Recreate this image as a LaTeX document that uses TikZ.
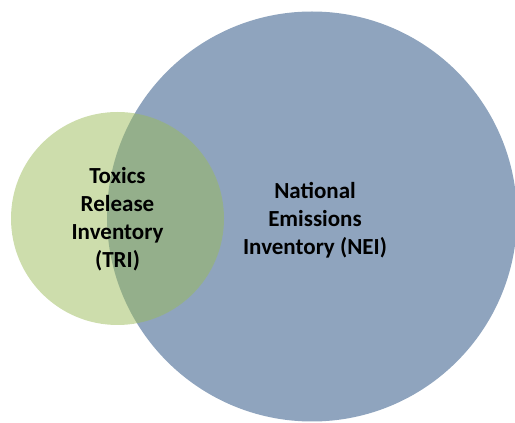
\documentclass[tikz,border=0pt]{standalone}
\usepackage{fontspec}
\setmainfont{Carlito}
\definecolor{neiblue}{HTML}{1F497D}
\definecolor{trigreen}{HTML}{9BBB59}
\tikzset{
  label text/.style={font=\bfseries\fontsize{23}{28}\selectfont, align=center, text=black, inner sep=0pt},
}
\begin{document}
\begin{tikzpicture}[x=1pt,y=1pt]
\useasboundingbox (0,0) rectangle (515,423);
\fill[neiblue, fill opacity=0.5] (312,206.5) circle[radius=205];
\fill[trigreen, fill opacity=0.5] (117.5,204.5) circle[radius=106.5];
\node[label text] (tri) at (117.5,204) {Toxics\\Release\\Inventory\\(TRI)};
\node[label text] (nei) at (315,203) {National\\Emissions\\Inventory (NEI)};
\end{tikzpicture}
\end{document}
